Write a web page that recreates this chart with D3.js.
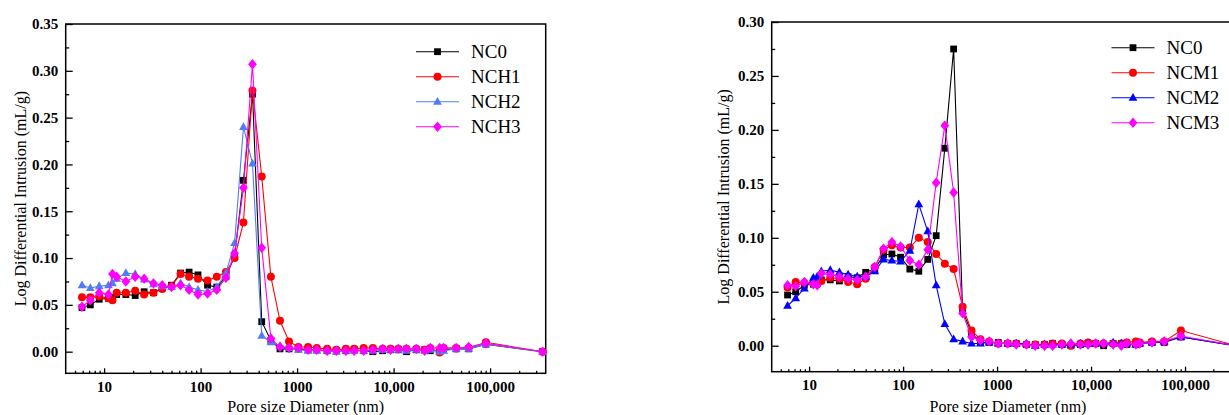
<!DOCTYPE html>
<html>
<head>
<meta charset="utf-8">
<script src="https://cdn.jsdelivr.net/npm/d3@7"></script>
<style>
  body { margin: 0; background: #fff; }
  svg text { font-family: "Liberation Serif", "Times New Roman", "DejaVu Serif", serif !important; }
</style>
</head>
<body>
<svg id="chart" width="1229" height="415"></svg>
<script>
/*------------------------------------------*/
/*            Data                          */
/*------------------------------------------*/

var poreSize = [5.9, 7.2, 8.9, 11.1, 12.2, 13.5, 16.8, 21, 26, 32.5, 40, 50, 62, 76, 94, 118,
  147, 183, 225, 278, 345, 430, 535, 665, 825, 1030, 1300, 1600, 2050, 2550, 3200, 3900,
  4900, 6100, 7700, 9300, 11200, 13600, 17200, 21000, 24000, 30000, 33000, 44500, 60000,
  90500, 350000];

var nc0 = [0.047, 0.050, 0.056, 0.057, 0.058, 0.061, 0.061, 0.060, 0.064, 0.063, 0.068, 0.071,
  0.084, 0.085, 0.082, 0.071, 0.069, 0.080, 0.102, 0.183, 0.275, 0.032, 0.012, 0.003, 0.003,
  0.003, 0.002, 0.002, 0.001, 0.001, 0.001, 0.002, 0.001, 0.000, 0.001, 0.002, 0.002, 0.000,
  0.002, 0.002, 0.001, 0.001, 0.002, 0.003, 0.003, 0.008, 0.000];

var nch1 = [0.058, 0.058, 0.059, 0.057, 0.055, 0.063, 0.063, 0.065, 0.061, 0.063, 0.067, 0.070,
  0.083, 0.080, 0.078, 0.076, 0.080, 0.085, 0.100, 0.138, 0.279, 0.187, 0.080, 0.033, 0.011,
  0.005, 0.005, 0.004, 0.003, 0.002, 0.003, 0.003, 0.004, 0.004, 0.003, 0.003, 0.003, 0.003,
  0.003, 0.002, 0.004, -0.001, 0.004, 0.004, 0.004, 0.010, 0.000];

var nch2 = [0.071, 0.068, 0.070, 0.071, 0.073, 0.078, 0.084, 0.083, 0.077, 0.072, 0.070, 0.069,
  0.073, 0.069, 0.066, 0.064, 0.069, 0.084, 0.116, 0.240, 0.201, 0.017, 0.010, 0.006, 0.004,
  0.002, 0.001, 0.001, 0.001, 0.000, 0.001, 0.001, 0.001, 0.001, 0.002, 0.002, 0.002, 0.001,
  0.002, 0.001, 0.002, 0.000, 0.001, 0.003, 0.003, 0.008, 0.000];

var nch3 = [0.048, 0.055, 0.063, 0.061, 0.083, 0.080, 0.075, 0.080, 0.078, 0.073, 0.071, 0.069,
  0.071, 0.066, 0.061, 0.062, 0.066, 0.079, 0.105, 0.175, 0.307, 0.111, 0.014, 0.005, 0.004,
  0.004, 0.002, 0.002, 0.001, 0.001, 0.001, 0.001, 0.001, 0.002, 0.003, 0.002, 0.003, 0.003,
  0.003, 0.001, 0.004, 0.004, 0.004, 0.004, 0.005, 0.009, 0.000];

var ncm1 = [0.054, 0.059, 0.058, 0.058, 0.057, 0.060, 0.063, 0.062, 0.059, 0.057, 0.062, 0.073,
  0.089, 0.093, 0.091, 0.091, 0.100, 0.096, 0.085, 0.076, 0.071, 0.036, 0.014, 0.006, 0.004,
  0.002, 0.002, 0.002, 0.001, 0.001, 0.001, 0.002, 0.002, 0.000, 0.002, 0.003, 0.002, 0.002,
  0.002, 0.002, 0.003, 0.004, 0.003, 0.004, 0.004, 0.014, 0.000];

var ncm2 = [0.037, 0.044, 0.053, 0.063, 0.064, 0.069, 0.070, 0.068, 0.066, 0.064, 0.064, 0.069,
  0.080, 0.079, 0.078, 0.088, 0.131, 0.106, 0.056, 0.020, 0.006, 0.004, 0.002, 0.002, 0.003,
  0.002, 0.002, 0.002, 0.002, 0.000, 0.001, 0.001, 0.001, 0.001, 0.002, 0.002, 0.002, 0.002,
  0.003, 0.002, 0.002, 0.001, 0.002, 0.003, 0.004, 0.008, 0.000];

var ncm3 = [0.056, 0.055, 0.059, 0.057, 0.056, 0.067, 0.066, 0.064, 0.062, 0.061, 0.064, 0.073,
  0.090, 0.096, 0.092, 0.079, 0.075, 0.089, 0.151, 0.204, 0.142, 0.030, 0.008, 0.005, 0.004,
  0.002, 0.002, 0.001, 0.001, 0.000, 0.000, 0.000, 0.001, 0.002, 0.001, 0.001, 0.002, 0.002,
  0.001, 0.000, 0.002, 0.001, 0.002, 0.003, 0.004, 0.009, 0.000];

var xTicks = [10, 100, 1000, 10000, 100000],
    xTickLabels = ["10", "100", "1000", "10,000", "100,000"];

var yTicksLeft = [0, 0.05, 0.10, 0.15, 0.20, 0.25, 0.30, 0.35],
    yTicksRight = [0, 0.05, 0.10, 0.15, 0.20, 0.25, 0.30];

var namesLeft = ["NC0", "NCH1", "NCH2", "NCH3"],
    namesRight = ["NC0", "NCM1", "NCM2", "NCM3"];

/*------------------------------------------*/
/*            Markers                       */
/*------------------------------------------*/

var markers = {
  square: "M-3.4,-3.4H3.4V3.4H-3.4Z",
  circle: "M-4,0A4,4 0 1,0 4,0A4,4 0 1,0 -4,0Z",
  triangle: "M0,-4.8L4.4,3L-4.4,3Z",
  diamond: "M0,-5.2L4.4,0L0,5.2L-4.4,0Z"
};

var serif = "'Liberation Serif', 'Times New Roman', 'DejaVu Serif', serif";

var svg = d3.select("#chart");
svg.append("rect").attr("width", 1229).attr("height", 415).attr("fill", "#fff");

/*------------------------------------------*/
/*            One panel                     */
/*------------------------------------------*/

function drawPanel(p) {
  var x = d3.scaleLog().domain([4, 377000]).range([p.left, p.right]);
  var y = d3.scaleLinear().domain([p.yMin, p.yMax]).range([p.bottom, p.top]);
  var g = svg.append("g").style("font-family", serif);

  // minor ticks
  var minorX = [];
  [1, 10, 100, 1000, 10000, 100000].forEach(function(dec) {
    for (var k = 2; k <= 9; k++) {
      var v = dec * k;
      if (v > 4 && v < 377000) minorX.push(v);
    }
  });
  var minorY = [];
  for (var m = 0.025; m < p.yMax; m += 0.05) minorY.push(m);

  g.append("g")
      .attr("transform", "translate(0," + p.bottom + ")")
      .call(d3.axisBottom(x).tickValues(minorX).tickSize(-2.5).tickFormat(""))
      .call(function(s) { s.select(".domain").remove(); });

  g.append("g")
      .attr("transform", "translate(" + p.left + ",0)")
      .call(d3.axisLeft(y).tickValues(minorY).tickSize(-3.5).tickFormat(""))
      .call(function(s) { s.select(".domain").remove(); });

  var xAxis = g.append("g")
      .attr("transform", "translate(0," + p.bottom + ")")
      .call(d3.axisBottom(x).tickValues(xTicks).tickSize(-5).tickPadding(7.7)
            .tickFormat(function(d, i) { return xTickLabels[i]; }));
  xAxis.select(".domain").remove();

  var yAxis = g.append("g")
      .attr("transform", "translate(" + p.left + ",0)")
      .call(d3.axisLeft(y).tickValues(p.yTicks).tickSize(-7).tickPadding(7.5)
            .tickFormat(d3.format(".2f")));
  yAxis.select(".domain").remove();

  g.selectAll("g").attr("font-family", null);
  g.selectAll(".tick line").attr("stroke", "#000").attr("stroke-width", 1.3);
  g.selectAll(".tick text")
      .style("font-family", serif)
      .attr("font-size", "15px")
      .attr("font-weight", "bold")
      .attr("fill", "#000");

  // frame
  g.append("rect")
      .attr("x", p.left).attr("y", p.top)
      .attr("width", p.right - p.left).attr("height", p.bottom - p.top)
      .attr("fill", "none").attr("stroke", "#000").attr("stroke-width", 1.5);

  // series
  var line = d3.line()
      .x(function(d) { return x(d[0]); })
      .y(function(d) { return y(d[1]); });

  p.series.forEach(function(s) {
    var pts = poreSize.map(function(d, i) { return [d, s.values[i]]; });
    g.append("path")
        .datum(pts)
        .attr("fill", "none")
        .attr("stroke", s.color)
        .attr("stroke-width", 1.1)
        .attr("d", line);
    g.selectAll(null)
        .data(pts)
        .enter().append("path")
        .attr("transform", function(d) { return "translate(" + x(d[0]) + "," + y(d[1]) + ")"; })
        .attr("d", markers[s.marker])
        .attr("fill", s.color);
  });

  // axis titles
  g.append("text")
      .attr("x", p.xTitleX).attr("y", 412)
      .attr("text-anchor", "middle")
      .attr("font-size", "16px")
      .style("font-family", serif)
      .text("Pore size Diameter (nm)");

  g.append("text")
      .attr("transform", "translate(" + p.yTitleX + "," + ((p.top + p.bottom) / 2) + ") rotate(-90)")
      .attr("text-anchor", "middle")
      .attr("font-size", "16px")
      .style("font-family", serif)
      .text("Log Differential Intrusion (mL/g)");

  // legend
  var legend = g.append("g");
  p.series.forEach(function(s, i) {
    var ly = p.legendY + i * p.legendStep;
    legend.append("line")
        .attr("x1", p.legendX).attr("x2", p.legendX + 43)
        .attr("y1", ly).attr("y2", ly)
        .attr("stroke", s.color).attr("stroke-width", 1.1);
    legend.append("path")
        .attr("transform", "translate(" + (p.legendX + 21.5) + "," + ly + ")")
        .attr("d", markers[s.marker])
        .attr("fill", s.color);
    legend.append("text")
        .attr("x", p.legendX + 55)
        .attr("y", ly + 6.5)
        .attr("font-size", "19px")
        .style("font-family", serif)
        .text(s.name);
  });
}

drawPanel({
  left: 65.7, right: 545.7, top: 24, bottom: 373.3,
  yMin: -0.0231, yMax: 0.35, yTicks: yTicksLeft,
  xTitleX: 305.7, yTitleX: 25.5,
  legendX: 416, legendY: 51.7, legendStep: 25,
  series: [
    {name: namesLeft[0], values: nc0, color: "#000000", marker: "square"},
    {name: namesLeft[1], values: nch1, color: "#ff0000", marker: "circle"},
    {name: namesLeft[2], values: nch2, color: "#4f7df5", marker: "triangle"},
    {name: namesLeft[3], values: nch3, color: "#ff00ff", marker: "diamond"}
  ]
});

drawPanel({
  left: 771.7, right: 1239.2, top: 22, bottom: 371.7,
  yMin: -0.0241, yMax: 0.30, yTicks: yTicksRight,
  xTitleX: 1008, yTitleX: 728.5,
  legendX: 1111.5, legendY: 47.7, legendStep: 25,
  series: [
    {name: namesRight[0], values: nc0, color: "#000000", marker: "square"},
    {name: namesRight[1], values: ncm1, color: "#ff0000", marker: "circle"},
    {name: namesRight[2], values: ncm2, color: "#0000ff", marker: "triangle"},
    {name: namesRight[3], values: ncm3, color: "#ff00ff", marker: "diamond"}
  ]
});
</script>
</body>
</html>
